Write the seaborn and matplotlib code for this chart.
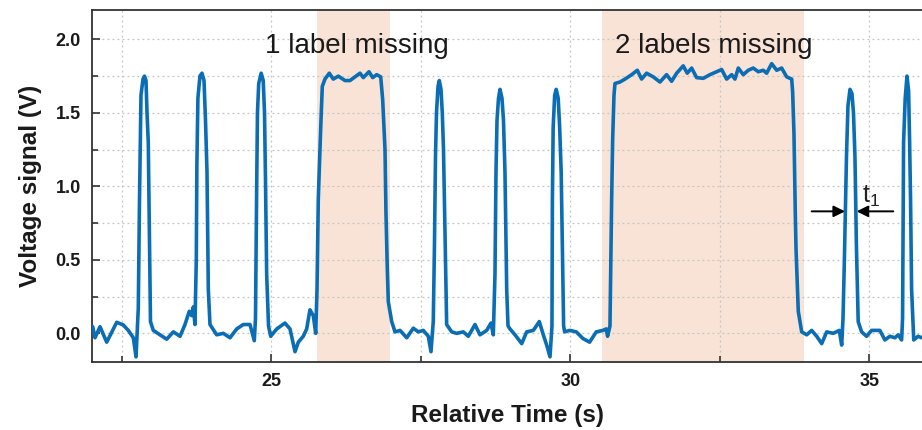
import matplotlib
matplotlib.use("Agg")
import matplotlib.pyplot as plt
import seaborn as sns
import pandas as pd
from matplotlib.ticker import MultipleLocator

# ---- data ----
time_s = [
    22.012, 22.050, 22.134, 22.246, 22.413, 22.523, 22.607, 22.691, 22.736, 22.774,
    22.794, 22.808, 22.819, 22.853, 22.878, 22.903, 22.920, 22.941, 22.962, 22.978,
    23.025, 23.137, 23.249, 23.360, 23.472, 23.555, 23.627, 23.667, 23.694, 23.722,
    23.744, 23.754, 23.771, 23.805, 23.839, 23.873, 23.898, 23.923, 23.945, 23.973,
    24.085, 24.196, 24.308, 24.420, 24.530, 24.642, 24.714, 24.734,
    24.754, 24.767, 24.788, 24.829, 24.863, 24.885, 24.901, 24.921, 24.952,
    24.988, 25.089, 25.227, 25.311, 25.395, 25.450, 25.533, 25.590, 25.645, 25.701, 25.741, 25.763,
    25.784, 25.824, 25.851, 25.896, 25.968, 26.035, 26.119, 26.231, 26.314, 26.398, 26.482,
    26.537, 26.632, 26.694, 26.761, 26.828, 26.861, 26.900, 26.916, 26.938, 26.955, 27.012, 27.067,
    27.151, 27.263, 27.373, 27.457, 27.540, 27.624, 27.669, 27.707,
    27.727, 27.744, 27.761, 27.786, 27.808, 27.836, 27.858, 27.878, 27.903, 27.931,
    28.015, 28.098, 28.209, 28.293, 28.405, 28.488, 28.600, 28.672, 28.711,
    28.739, 28.756, 28.773, 28.798, 28.823, 28.856, 28.881, 28.906, 28.935, 28.957,
    28.990, 29.074, 29.186, 29.269, 29.380, 29.480, 29.547, 29.604, 29.659, 29.692,
    29.699, 29.712, 29.737, 29.763, 29.796, 29.821, 29.846, 29.870, 29.887,
    29.904, 29.987, 30.099, 30.209, 30.321, 30.433, 30.544, 30.600, 30.622, 30.662,
    30.690, 30.707, 30.729, 30.746, 30.829, 30.913, 31.025, 31.119, 31.191, 31.275,
    31.386, 31.498, 31.609, 31.693, 31.777, 31.887, 31.954, 32.028, 32.111, 32.222,
    32.334, 32.446, 32.530, 32.613, 32.697, 32.752, 32.808, 32.891, 32.975, 33.058,
    33.142, 33.226, 33.282, 33.366, 33.450, 33.533, 33.617, 33.701, 33.717, 33.739,
    33.761, 33.773, 33.811, 33.868,
    33.952, 34.035, 34.119, 34.203, 34.286, 34.396, 34.497, 34.537, 34.559,
    34.582, 34.617, 34.642, 34.676, 34.709, 34.734, 34.759, 34.783, 34.813,
    34.870, 34.953, 35.037, 35.176, 35.259, 35.343, 35.428, 35.483, 35.539, 35.555,
    35.566, 35.572, 35.599, 35.629, 35.656, 35.673, 35.689, 35.706, 35.742, 35.814, 35.876,
]
voltage_v = [
    0.045, -0.03, 0.045, -0.06, 0.075, 0.057, 0.02, -0.03, -0.16, 0.17,
    0.9, 1.3, 1.62, 1.73, 1.75, 1.72, 1.5, 1.3, 0.6, 0.08,
    0.02, -0.01, -0.04, 0.01, -0.02, 0.06, 0.15, 0.12, 0.18, 0.06,
    0.5, 1.15, 1.6, 1.75, 1.77, 1.72, 1.45, 1.1, 0.3, 0.06,
    -0.01, 0.0, -0.03, 0.03, 0.06, 0.06, -0.05, 0.1,
    1.0, 1.5, 1.7, 1.77, 1.72, 1.5, 1.05, 0.4, 0.05,
    -0.02, 0.03, 0.07, 0.03, -0.125, -0.06, -0.02, 0.03, 0.16, 0.12, 0.0, 0.3,
    0.91, 1.39, 1.68, 1.73, 1.77, 1.73, 1.75, 1.72, 1.72, 1.745, 1.77,
    1.74, 1.78, 1.74, 1.76, 1.745, 1.59, 1.25, 0.82, 0.44, 0.215, 0.08, 0.01,
    0.02, -0.03, 0.035, 0.01, 0.02, -0.02, -0.125, 0.08,
    0.6, 1.2, 1.5, 1.68, 1.72, 1.66, 1.5, 1.25, 0.7, 0.06,
    0.01, 0.0, 0.01, -0.02, 0.06, -0.01, 0.02, 0.07, -0.01,
    0.4, 1.1, 1.45, 1.6, 1.66, 1.6, 1.45, 1.1, 0.3, 0.05,
    0.03, -0.01, -0.07, 0.01, 0.02, 0.08, -0.01, -0.08, -0.16, 0.05,
    0.9, 1.4, 1.62, 1.66, 1.6, 1.4, 1.1, 0.5, 0.05,
    0.01, 0.02, 0.01, -0.035, -0.06, 0.01, 0.02, 0.03, -0.02, 0.05,
    0.91, 1.32, 1.62, 1.70, 1.71, 1.73, 1.76, 1.79, 1.73, 1.77,
    1.745, 1.71, 1.76, 1.715, 1.77, 1.82, 1.77, 1.805, 1.74, 1.735,
    1.76, 1.78, 1.795, 1.73, 1.76, 1.73, 1.805, 1.76, 1.79, 1.805,
    1.78, 1.79, 1.77, 1.835, 1.79, 1.805, 1.745, 1.73, 1.64, 1.36,
    0.82, 0.58, 0.15, 0.01,
    -0.01, 0.02, -0.02, -0.07, 0.01, 0.0, 0.02, -0.08, 0.1,
    0.5, 1.2, 1.55, 1.66, 1.63, 1.5, 1.2, 0.6, 0.08,
    0.01, -0.02, 0.02, 0.02, -0.045, -0.02, -0.03, -0.01, -0.045, 0.1,
    0.8, 1.3, 1.6, 1.75, 1.65, 1.3, 0.9, 0.3, -0.045, -0.02, -0.03,
]
missing_start = [25.76, 30.53]
missing_end = [26.99, 33.90]
missing_labels = ["1 label missing", "2 labels missing"]
label_x = [24.893, 30.746]
label_y = [1.909, 1.909]
x_ticks = [25, 30, 35]
y_ticks = [0.0, 0.5, 1.0, 1.5, 2.0]

df = pd.DataFrame({"t": time_s, "v": voltage_v})

sns.set_style("ticks")
plt.rcParams["font.family"] = ["Liberation Sans", "DejaVu Sans"]

fig = plt.figure(figsize=(9.22, 4.30), dpi=100)
ax = fig.add_axes([92 / 922, 1 - 362 / 430, 1 - 92 / 922, (362 - 10) / 430])

for s, e in zip(missing_start, missing_end):
    ax.axvspan(s, e, color="#f9e3d6", lw=0, zorder=0)

sns.lineplot(data=df, x="t", y="v", ax=ax, sort=False, estimator=None,
             color="#0b6db3", linewidth=2.6, zorder=3)

for txt, x, y in zip(missing_labels, label_x, label_y):
    ax.text(x, y, txt, fontsize=20, color="#1a1a1a", ha="left", va="baseline", zorder=4)

# t1 arrows
arrow_y = 0.83
ax.annotate("", xy=(34.592, arrow_y), xytext=(34.035, arrow_y),
            arrowprops=dict(arrowstyle="-|>", color="black", lw=1.4, mutation_scale=17,
                            shrinkA=0, shrinkB=0), zorder=5)
ax.annotate("", xy=(34.787, arrow_y), xytext=(35.400, arrow_y),
            arrowprops=dict(arrowstyle="-|>", color="black", lw=1.4, mutation_scale=17,
                            shrinkA=0, shrinkB=0), zorder=5)
ax.text(34.87, 0.89, r"$\mathregular{t_1}$", fontsize=18, color="#222222",
        ha="left", va="baseline", zorder=5)

ax.set_xlim(22.0, 35.88)
ax.set_ylim(-0.195, 2.2)
ax.set_xticks(x_ticks)
ax.set_yticks(y_ticks)
ax.xaxis.set_minor_locator(MultipleLocator(2.5))
ax.yaxis.set_minor_locator(MultipleLocator(0.25))
ax.yaxis.set_major_formatter(matplotlib.ticker.FormatStrFormatter("%.1f"))

ax.grid(which="both", linestyle=(0, (1.5, 2.5)), color="#c4c4c4", linewidth=0.9, zorder=1)
ax.set_axisbelow(True)

ax.tick_params(which="both", direction="in", color="#333333", width=1.2)
ax.tick_params(which="major", length=6)
ax.tick_params(which="minor", length=4)
ax.tick_params(axis="both", labelsize=13, labelcolor="#1a1a1a", pad=8)
for lab in ax.get_xticklabels() + ax.get_yticklabels():
    lab.set_fontweight("bold")

for side in ["left", "bottom", "top"]:
    ax.spines[side].set_color("#333333")
    ax.spines[side].set_linewidth(1.3)
ax.spines["right"].set_visible(False)

ax.set_xlabel("Relative Time (s)", fontsize=17.5, fontweight="bold", color="#1a1a1a", labelpad=10)
ax.set_ylabel("Voltage signal (V)", fontsize=17.5, fontweight="bold", color="#1a1a1a", labelpad=10)

fig.savefig("out.png", dpi=100)
